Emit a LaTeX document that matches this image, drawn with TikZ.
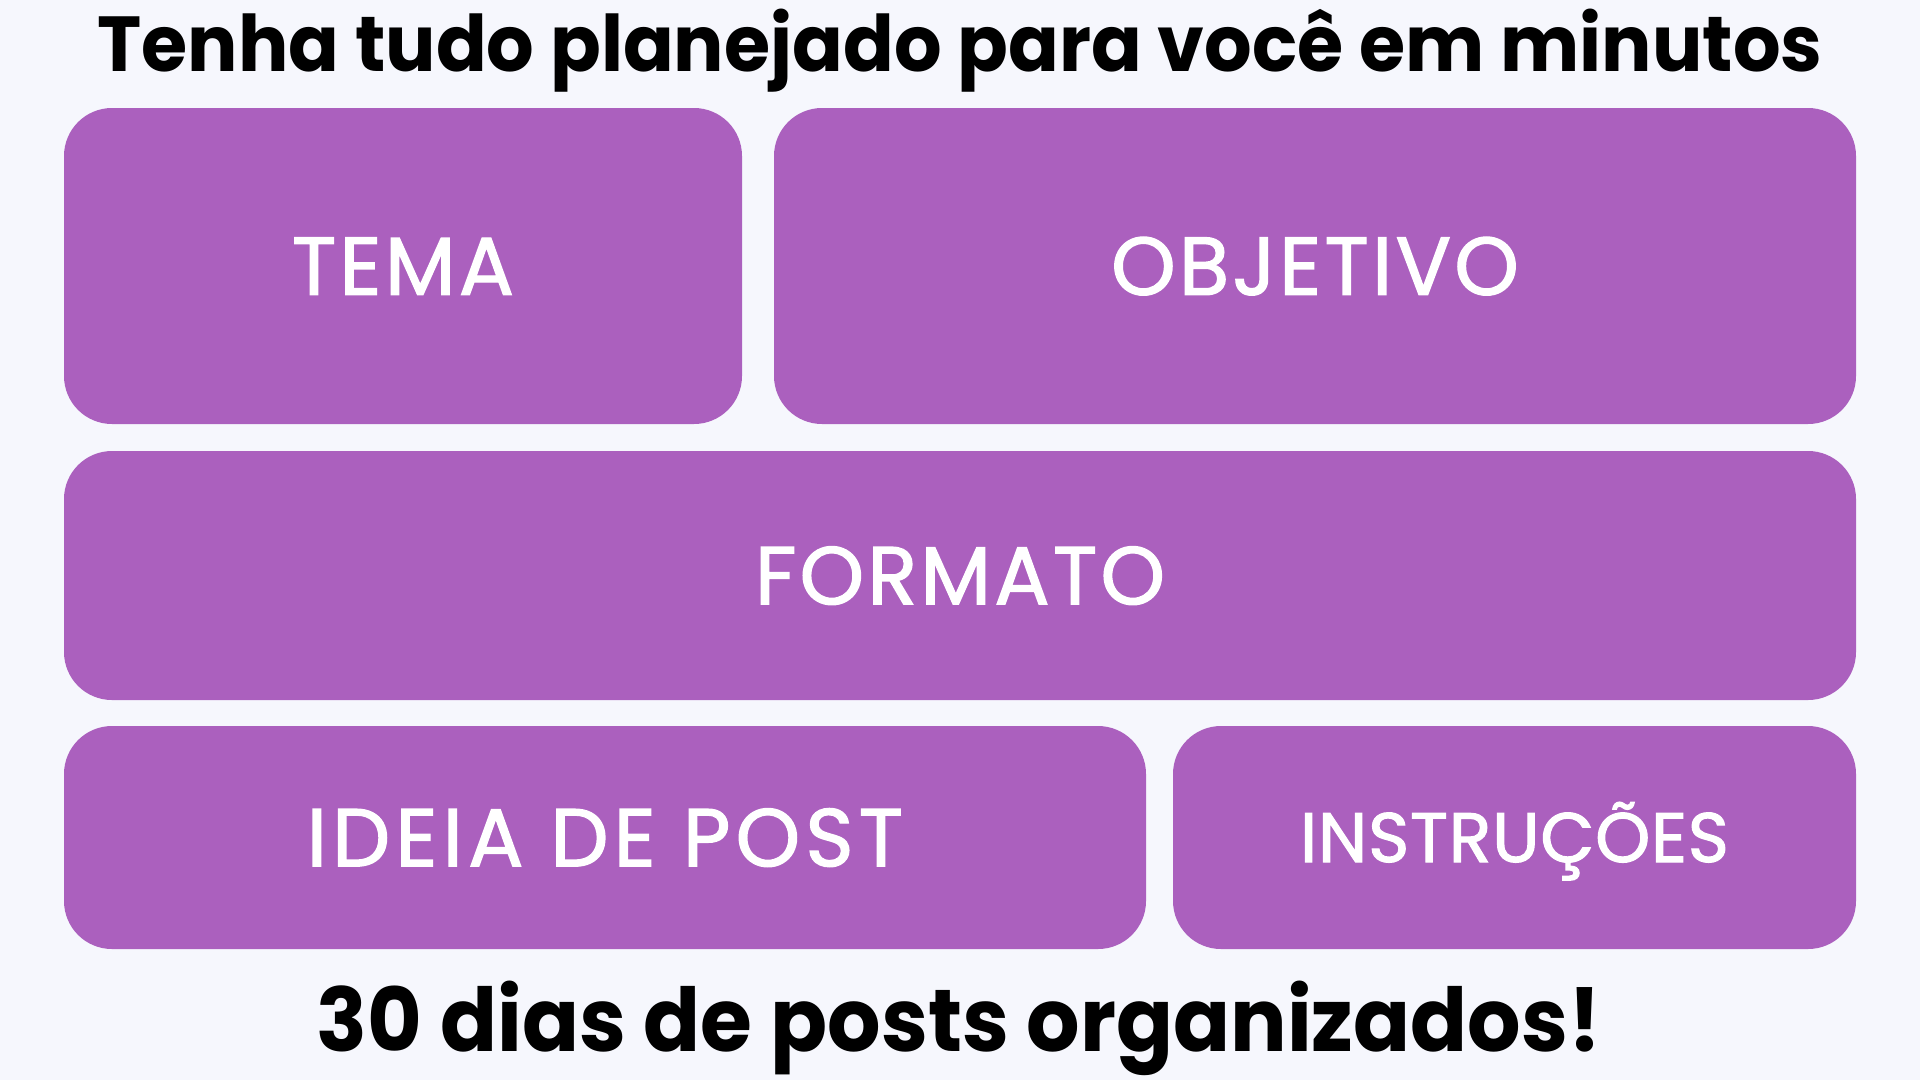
\documentclass[tikz,border=0pt]{standalone}
\usepackage{fontspec}
\setmainfont{Poppins}
\newfontfamily\labelfont[FakeBold=1.6, LetterSpace=4]{Poppins}
\newfontfamily\labelfontwide[FakeBold=1.6, LetterSpace=6.4]{Poppins}
\newfontfamily\labelfontnarrow[FakeBold=1.6, LetterSpace=1.2]{Poppins}
\definecolor{bgc}{HTML}{F6F7FD}
\definecolor{purp}{HTML}{AB60BE}
\begin{document}
\begin{tikzpicture}[x=1pt,y=-1pt,
  box/.style={fill=purp, rounded corners=48pt, inner sep=0pt, text=white,
    font=\labelfont\fontsize{82}{90}\selectfont, text height=57.5pt, text depth=0pt},
  headline/.style={anchor=base, inner sep=0pt, text=black, font=\bfseries\fontsize{78}{90}\selectfont}]
\fill[bgc] (0,0) rectangle (1920,1080);
\useasboundingbox (0,0) rectangle (1920,1080);
\node[headline, xscale=0.959] (title) at (960,71) {Tenha tudo planejado para você em minutos};
\node[box, minimum width=678pt, minimum height=316pt] (tema) at (403,266) {TEMA};
\node[box, minimum width=1082pt, minimum height=316pt] (obj) at (1315,266) {OBJETIVO};
\node[box, minimum width=1792pt, minimum height=249pt] (form) at (960,575.5) {FORMATO};
\node[box, minimum width=1082pt, minimum height=223pt, font=\labelfontwide\fontsize{82}{90}\selectfont] (ideia) at (605,837.5) {IDEIA DE POST};
\node[box, minimum width=683pt, minimum height=223pt, font=\labelfontnarrow\fontsize{70}{80}\selectfont, text height=49pt] (instr) at (1514.5,837.5) {INSTRUÇÕES};
\node[headline, xscale=0.955, font=\bfseries\fontsize{88}{100}\selectfont] (bottom) at (959,1051) {30 dias de posts organizados!};
\end{tikzpicture}
\end{document}
